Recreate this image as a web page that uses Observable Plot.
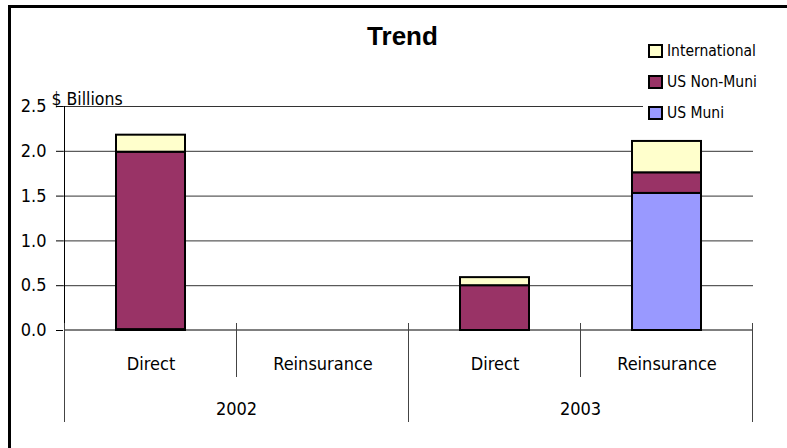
<!DOCTYPE html>
<html>
<head>
<meta charset="utf-8">
<script src="https://cdn.jsdelivr.net/npm/d3@7"></script>
<script src="https://cdn.jsdelivr.net/npm/@observablehq/plot@0.6"></script>
<style>
  html, body { margin: 0; padding: 0; background: #fff; }
  #chart { position: relative; width: 787px; height: 448px; overflow: hidden; background: #fff;
           font-family: 'Liberation Sans Narrow', 'Arial Narrow', 'DejaVu Sans Condensed', sans-serif; }
  #frame { position: absolute; left: 8px; top: 5px; width: 900px; height: 600px;
           border-left: 3px solid #000; border-top: 3px solid #000; pointer-events: none; }
  #title { position: absolute; left: 0; width: 805px; top: 21px; text-align: center;
           font: bold 26px 'Liberation Sans', Arial, sans-serif; color: #000; }
  #legend { position: absolute; left: 643px; top: 35px; width: 144px; background: #fff; }
  .item { display: flex; align-items: center; height: 31px; font-size: 15.5px; color: #000; }
  .sw { width: 11px; height: 10px; border: 2px solid #000; margin-left: 5px; margin-right: 4px; }
</style>
</head>
<body>
<div id="chart">
  <div id="title">Trend</div>
</div>
<script>
// Bar groups: business line within each year
const years = ["2002", "2003"];
const categories = ["Direct", "Reinsurance"];

// Series, stacked bottom to top ($ billions), one value per year/category pair
const seriesNames = ["US Muni", "US Non-Muni", "International"];
const seriesColors = ["#9999FF", "#993366", "#FFFFCC"];
const usMuni = [0.01, 0, 0, 1.53];
const usNonMuni = [1.98, 0, 0.50, 0.23];
const international = [0.19, 0, 0.09, 0.35];

// Value axis ticks
const yTicks = [0, 0.5, 1.0, 1.5, 2.0, 2.5];
const yLabel = "$ Billions";

const keys = years.flatMap(y => categories.map(c => `${y} ${c}`));
const seriesValues = [usMuni, usNonMuni, international];
const rows = [];
keys.forEach((key, i) => {
  seriesNames.forEach((s, j) => {
    const v = seriesValues[j][i];
    if (v > 0) rows.push({key, series: s, value: v});
  });
});

const labelFont = "'Liberation Sans Narrow', 'Arial Narrow', 'DejaVu Sans Condensed', sans-serif";

// Two-level category axis: separators, year labels, value-axis line and baseline
function categoryAxis(index, scales, values, dimensions) {
  const x = scales.x, y = scales.y;
  const bw = x.bandwidth();
  const step = x(keys[1]) - x(keys[0]);
  const pad = (step - bw) / 2;
  const y0 = y(0);
  const g = d3.create("svg:g");
  // value axis line and baseline
  g.append("line").attr("x1", x(keys[0]) - pad).attr("x2", x(keys[0]) - pad)
    .attr("y1", y(yTicks[yTicks.length - 1])).attr("y2", y0).attr("stroke", "#000");
  g.append("line").attr("x1", x(keys[0]) - pad).attr("x2", x(keys[keys.length - 1]) + bw + pad)
    .attr("y1", y0).attr("y2", y0).attr("stroke", "#000");
  // separators between categories (short) and between years (long)
  keys.forEach((k, i) => {
    const left = x(k) - pad;
    const isYear = i % categories.length === 0;
    g.append("line").attr("x1", left).attr("x2", left)
      .attr("y1", y0 - 7).attr("y2", y0 + (isYear ? 92 : 47)).attr("stroke", "#444");
  });
  const last = keys[keys.length - 1];
  g.append("line").attr("x1", x(last) + bw + pad).attr("x2", x(last) + bw + pad)
    .attr("y1", y0 - 7).attr("y2", y0 + 92).attr("stroke", "#444");
  // year labels centered under their categories
  years.forEach(yr => {
    const a = x(`${yr} ${categories[0]}`);
    const b = x(`${yr} ${categories[categories.length - 1]}`) + bw;
    g.append("text").attr("x", (a + b) / 2).attr("y", y0 + 85)
      .attr("text-anchor", "middle").attr("font-size", 18).attr("font-family", labelFont)
      .attr("fill", "#000").text(yr);
  });
  return g.node();
}

const chart = Plot.plot({
  width: 787,
  height: 448,
  marginLeft: 63,
  marginRight: 34,
  marginTop: 106,
  marginBottom: 118,
  style: {background: "transparent", fontFamily: labelFont, overflow: "visible"},
  x: {domain: keys, paddingInner: 0.6, paddingOuter: 0.3, axis: null},
  y: {domain: [0, 2.5], axis: null},
  color: {domain: seriesNames, range: seriesColors},
  marks: [
    Plot.ruleY(yTicks.slice(1), {stroke: "#333", strokeWidth: 1}),
    Plot.barY(rows, {x: "key", y: "value", fill: "series", stroke: "#000", strokeWidth: 2}),
    categoryAxis,
    Plot.axisY(yTicks, {tickFormat: d3.format(".1f"), tickSize: 7, tickPadding: 10, fontSize: 18, label: null, stroke: "#000"}),
    Plot.axisX({tickSize: 0, tickPadding: 27, fontSize: 18, label: null, tickFormat: d => d.split(" ")[1]}),
    Plot.text([yLabel], {frameAnchor: "top-left", text: d => d, dx: -12, dy: -2, textAnchor: "start", lineAnchor: "bottom", fontSize: 17.5, fill: "#000"})
  ]
});
chart.style.position = "absolute";
chart.style.left = "0px";
chart.style.top = "0px";

const root = document.getElementById("chart");
root.insertBefore(chart, root.firstChild);

// Legend, top entry is the top of the stack
const legend = document.createElement("div");
legend.id = "legend";
[...seriesNames].reverse().forEach(name => {
  const item = document.createElement("div");
  item.className = "item";
  const sw = document.createElement("div");
  sw.className = "sw";
  sw.style.background = seriesColors[seriesNames.indexOf(name)];
  const label = document.createElement("span");
  label.textContent = name;
  item.appendChild(sw);
  item.appendChild(label);
  legend.appendChild(item);
});
root.appendChild(legend);

const frame = document.createElement("div");
frame.id = "frame";
root.appendChild(frame);
</script>
</body>
</html>
